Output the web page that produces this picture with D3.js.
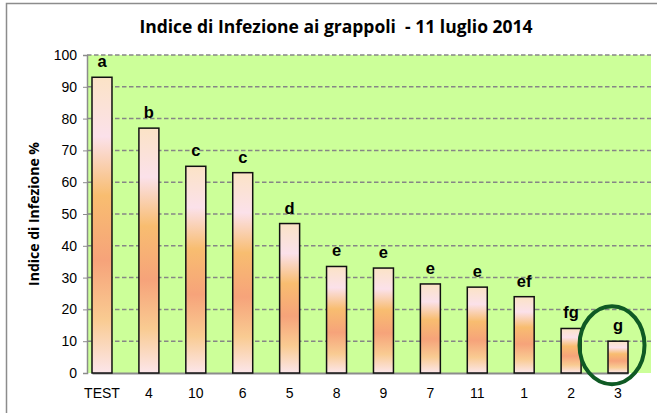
<!DOCTYPE html>
<html>
<head>
<meta charset="utf-8">
<script src="https://cdn.jsdelivr.net/npm/d3@7"></script>
<style>
  body { margin: 0; background: #fff; }
  svg { display: block; font-family: "Open Sans", sans-serif; }
</style>
</head>
<body>
<div id="chart"></div>
<script>
const categories = ["TEST", "4", "10", "6", "5", "8", "9", "7", "11", "1", "2", "3"];
const values = [93, 77, 65, 63, 47, 33.5, 33, 28, 27, 24, 14, 10];
const letters = ["a", "b", "c", "c", "d", "e", "e", "e", "e", "ef", "fg", "g"];
const yTicks = [0, 10, 20, 30, 40, 50, 60, 70, 80, 90, 100];
const highlighted = "3";

const W = 657, H = 413;
const margin = { top: 55, right: 6, bottom: 40, left: 87 };
const width = W - margin.left - margin.right;
const height = H - margin.top - margin.bottom;

const svg = d3.select("#chart").append("svg")
    .attr("width", W)
    .attr("height", H);

// cornice esterna
svg.append("path")
    .attr("d", `M6.5,${H} V3.5 H${W}`)
    .attr("fill", "none")
    .attr("stroke", "#8c8c8c")
    .attr("stroke-width", 1.5);

const defs = svg.append("defs");
const grad = defs.append("linearGradient")
    .attr("id", "barGrad")
    .attr("x1", 0).attr("y1", 0)
    .attr("x2", 0).attr("y2", 1);
[
  [0, "#fbe3c6"],
  [0.2, "#fbe1ea"],
  [0.4, "#f8bd70"],
  [0.62, "#f6a37a"],
  [0.82, "#f9cb92"],
  [1, "#fce6ea"]
].forEach(s => grad.append("stop").attr("offset", s[0]).attr("stop-color", s[1]));

const g = svg.append("g")
    .attr("transform", `translate(${margin.left},${margin.top})`);

const x = d3.scaleBand()
    .domain(categories)
    .range([5, 541])
    .paddingInner(0.574)
    .paddingOuter(0);

const y = d3.scaleLinear()
    .domain([0, 100])
    .range([height, 0]);

g.append("rect")
    .attr("width", width)
    .attr("height", height)
    .attr("fill", "#ccff99");

// griglia tratteggiata
g.append("g")
    .selectAll("line")
    .data(yTicks.filter(d => d > 0))
    .enter()
    .append("line")
    .attr("x1", 0)
    .attr("x2", width)
    .attr("y1", d => y(d))
    .attr("y2", d => y(d))
    .attr("stroke", "#868686")
    .attr("stroke-width", 1.5)
    .attr("stroke-dasharray", "4.5,2.5");

// assi
const yAxis = g.append("g")
    .call(d3.axisLeft(y).tickValues(yTicks).tickSize(4).tickPadding(6));
yAxis.select(".domain").attr("stroke", "#8c8c8c").attr("stroke-width", 1.5);
yAxis.selectAll(".tick line").attr("stroke", "#8c8c8c");
yAxis.selectAll("text")
    .style("font-size", "14px")
    .attr("fill", "#000");

const xAxis = g.append("g")
    .attr("transform", `translate(0,${height})`)
    .call(d3.axisBottom(x).tickSize(0).tickPadding(15));
xAxis.select(".domain").attr("stroke", "#8c8c8c").attr("stroke-width", 2);
xAxis.selectAll("text")
    .style("font-size", "14px")
    .attr("fill", "#000");

g.selectAll(".bar")
    .data(categories)
    .enter()
    .append("rect")
    .attr("class", "bar")
    .attr("x", d => x(d))
    .attr("y", (d, i) => y(values[i]))
    .attr("width", x.bandwidth())
    .attr("height", (d, i) => height - y(values[i]))
    .attr("fill", "url(#barGrad)")
    .attr("stroke", "#111")
    .attr("stroke-width", 1.5);

g.selectAll(".lbl")
    .data(categories)
    .enter()
    .append("text")
    .attr("class", "lbl")
    .attr("x", d => x(d) + x.bandwidth() / 2)
    .attr("y", (d, i) => y(values[i]) - 10)
    .attr("text-anchor", "middle")
    .style("font-size", "16.5px")
    .style("font-weight", "bold")
    .style("font-family", "'Liberation Sans', Arial, sans-serif")
    .text((d, i) => letters[i]);

// cerchio evidenziato
const hx = x(highlighted) + x.bandwidth() / 2;
const hv = values[categories.indexOf(highlighted)];
g.append("ellipse")
    .attr("cx", hx - 6)
    .attr("cy", y(hv) + 4)
    .attr("rx", 32.5)
    .attr("ry", 39)
    .attr("fill", "none")
    .attr("stroke", "#0f5a24")
    .attr("stroke-width", 4);

svg.append("text")
    .attr("x", 35)
    .attr("y", margin.top + height / 2)
    .attr("transform", `rotate(-90, 35, ${margin.top + height / 2})`)
    .attr("text-anchor", "middle")
    .attr("dominant-baseline", "middle")
    .style("font-size", "14px")
    .style("font-weight", "bold")
    .text("Indice di Infezione %");

svg.append("text")
    .attr("x", 336)
    .attr("y", 33)
    .attr("text-anchor", "middle")
    .style("font-size", "17.5px")
    .style("font-weight", "bold")
    .style("white-space", "pre")
    .text("Indice di Infezione ai grappoli  - 11 luglio 2014");
</script>
</body>
</html>
